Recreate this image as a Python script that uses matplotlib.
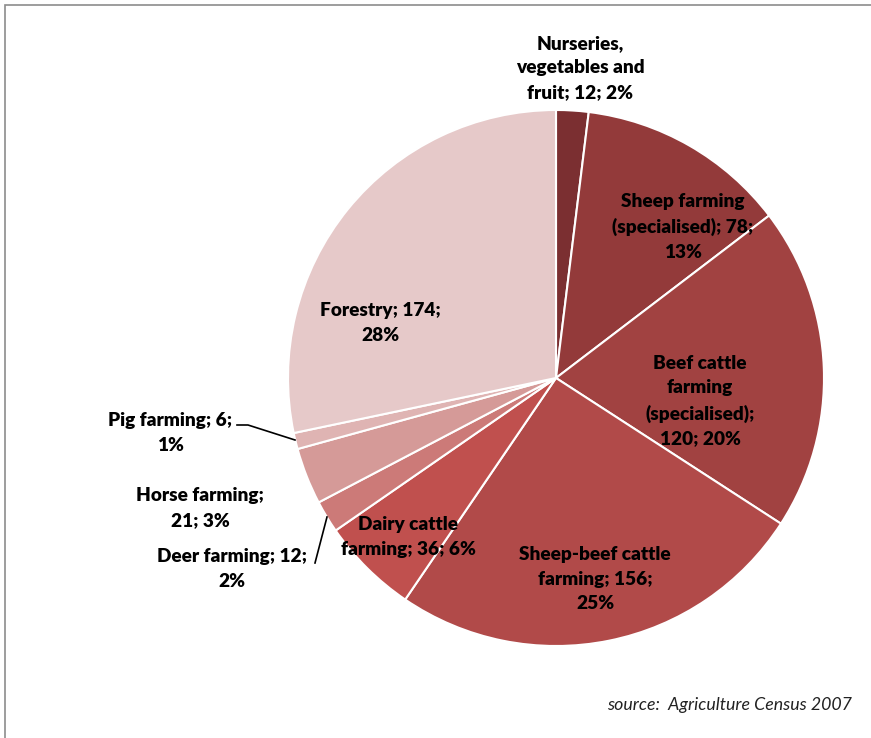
import matplotlib
matplotlib.use('Agg')
import matplotlib.pyplot as plt
from matplotlib.patches import Rectangle

# farm counts by type, clockwise from 12 o'clock
counts = [12, 78, 120, 156, 36, 12, 21, 6, 174]
labels = ['Nurseries,\nvegetables and\nfruit; 12; 2%',
          'Sheep farming\n(specialised); 78;\n13%',
          'Beef cattle\nfarming\n(specialised);\n120; 20%',
          'Sheep-beef cattle\nfarming; 156;\n25%',
          'Dairy cattle\nfarming; 36; 6%',
          'Deer farming; 12;\n2%',
          'Horse farming;\n21; 3%',
          'Pig farming; 6;\n1%',
          'Forestry; 174;\n28%']
colors = ['#7b2f31', '#933a3a', '#a14241', '#b14a49', '#c0504e', '#cc7a78', '#d59a98', '#dfb4b3', '#e6c9c9']

W, H = 871, 738
cx, cy, r = 556, 378, 268

plt.rcParams['font.family'] = ['Lato', 'DejaVu Sans']
fig = plt.figure(figsize=(W / 100, H / 100), dpi=100)
fig.patches.append(Rectangle((5 / W, -0.1), 2, (H - 5) / H + 0.1, transform=fig.transFigure,
                             fill=False, edgecolor='#8c8c8c', linewidth=1.2))

ax = fig.add_axes([(cx - r) / W, (H - cy - r) / H, 2 * r / W, 2 * r / H])
ax.pie(counts, colors=colors, startangle=90, counterclock=False, radius=1,
       wedgeprops=dict(edgecolor='white', linewidth=1.5))
ax.set_xlim(-1, 1)
ax.set_ylim(-1, 1)
ax.axis('off')
ax.set_aspect('auto')


def px(x, y):
    return (x - cx) / r, (cy - y) / r


label_pos = [(580, 68), (683, 227), (700, 401), (595, 579), (408, 537),
             (232, 569), (200, 508), (170, 433), (380, 323)]
for lab, (x, y) in zip(labels, label_pos):
    ax.text(*px(x, y), lab, ha='center', va='center', fontsize=13.7, fontweight='heavy',
            linespacing=1.55, clip_on=False)

# leader lines for the thin slices
ax.plot(*zip(px(315, 563), px(327, 517)), color='black', lw=1.2, clip_on=False)
ax.plot(*zip(px(237, 425), px(248, 425), px(295, 440)), color='black', lw=1.2, clip_on=False)

fig.text(852 / W, 1 - 705 / H, 'source:  Agriculture Census 2007', ha='right', va='center',
         fontsize=12.8, style='italic', color='#222222')

fig.savefig('out.png', dpi=100)
